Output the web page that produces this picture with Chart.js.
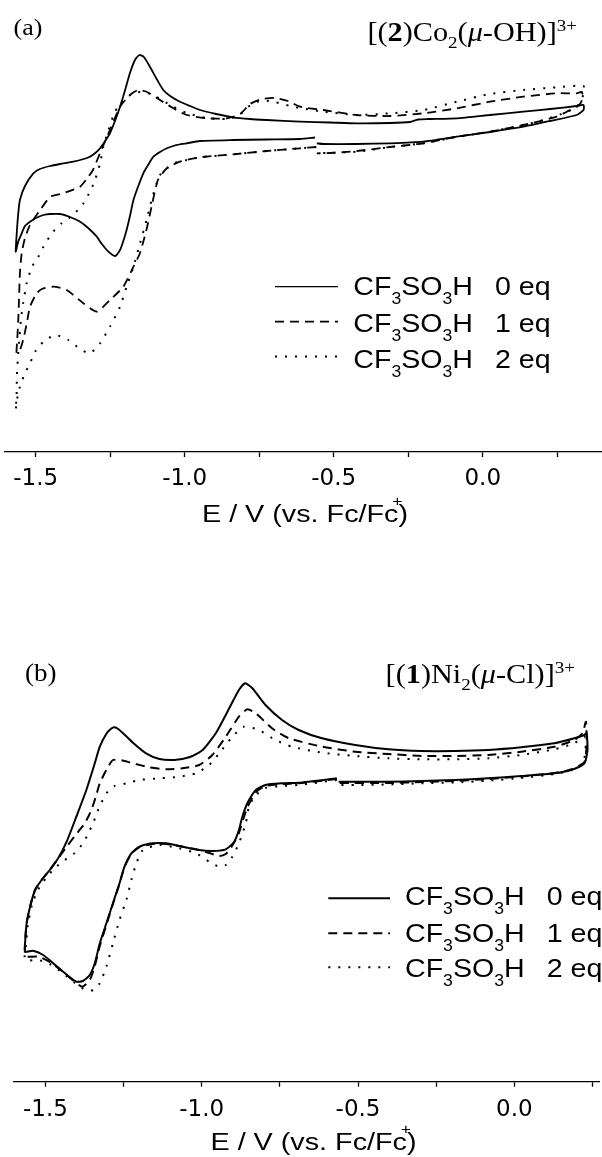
<!DOCTYPE html>
<html>
<head>
<meta charset="utf-8">
<title>CV titration with CF3SO3H</title>
<script src="https://cdn.jsdelivr.net/npm/chart.js@4.4.1/dist/chart.umd.min.js"></script>
<style>
	html, body { margin: 0; padding: 0; background: #fff; }
	body { width: 602px; height: 1157px; position: relative; overflow: hidden; }
	canvas { position: absolute; left: 0; }
	#cvCo { top: 0; }
	#cvNi { top: 555px; }
</style>
</head>
<body>
<canvas id="cvCo" width="602" height="545"></canvas>
<canvas id="cvNi" width="602" height="602"></canvas>
<script>
var SERIF = '"Liberation Serif", "Times New Roman", serif';
var SANS = '"Liberation Sans", Arial, sans-serif';
var TICK_FAMILY = '"DejaVu Sans", sans-serif';

// [E / V vs Fc/Fc+, current (arb. units)] in sweep order
var coEq0 = [[-0.563,31.45],[-0.613,31.3],[-0.725,31.25],[-0.838,31.2],[-0.949,31.1],[-0.993,30.87],[-1.033,30.65],[-1.060,30.37],[-1.083,30.0],[-1.105,29.53],[-1.123,28.7],[-1.139,27.87],[-1.157,26.5],[-1.172,25.2],[-1.183,23.7],[-1.195,22.2],[-1.207,21.0],[-1.217,20.2],[-1.234,19.6],[-1.256,20.03],[-1.278,20.8],[-1.295,21.53],[-1.324,22.4],[-1.351,23.03],[-1.385,23.5],[-1.418,23.8],[-1.452,23.8],[-1.474,23.7],[-1.499,23.4],[-1.519,23.03],[-1.536,22.6],[-1.547,21.87],[-1.559,21.0],[-1.567,20.03],
	[-1.564,21.7],[-1.559,23.7],[-1.553,25.2],[-1.536,26.6],[-1.508,27.87],[-1.486,28.3],[-1.452,28.6],[-1.418,28.8],[-1.374,29.03],[-1.345,29.25],[-1.318,29.53],[-1.298,29.95],[-1.284,30.37],[-1.268,31.05],[-1.251,31.87],[-1.234,33.1],[-1.217,34.53],[-1.200,36.2],[-1.184,37.87],[-1.167,39.2],[-1.152,39.7],[-1.137,39.5],[-1.117,38.53],[-1.096,37.4],[-1.072,36.2],[-1.049,35.6],[-1.016,35.03],[-0.982,34.6],[-0.949,34.2],[-0.895,33.8],[-0.838,33.47],[-0.781,33.3],[-0.725,33.2],[-0.613,33.03],[-0.512,32.95],[-0.423,32.87],[-0.311,32.9],[-0.244,33.0],[-0.217,33.25],[-0.184,33.3],[-0.087,33.37],[0.024,33.7],[0.136,34.03],[0.226,34.3],[0.315,34.6],[0.338,34.7],
	[0.338,34.2],[0.315,33.7],[0.226,33.1],[0.136,32.53],[0.024,32.0],[-0.087,31.53],[-0.199,31.03],[-0.311,30.87],[-0.423,30.8],[-0.535,30.8],[-0.557,30.87]];
var coEq1 = [[-0.559,30.5],[-0.613,30.37],[-0.725,30.1],[-0.837,29.77],[-0.949,29.47],[-1.016,29.03],[-1.060,28.37],[-1.090,27.2],[-1.110,24.7],[-1.127,22.4],[-1.150,19.9],[-1.172,18.53],[-1.206,16.53],[-1.251,15.2],[-1.295,14.03],[-1.340,14.87],[-1.396,16.2],[-1.441,16.53],[-1.479,16.3],[-1.497,15.87],[-1.519,14.53],[-1.530,12.87],[-1.542,11.2],[-1.553,10.2],[-1.564,9.9],
	[-1.562,11.2],[-1.558,13.53],[-1.556,15.2],[-1.553,17.87],[-1.547,19.87],[-1.536,21.4],[-1.519,22.7],[-1.485,24.2],[-1.451,25.53],[-1.418,25.8],[-1.392,26.03],[-1.351,26.53],[-1.324,27.5],[-1.308,28.2],[-1.284,29.9],[-1.251,32.2],[-1.217,34.53],[-1.184,35.7],[-1.156,36.2],[-1.128,36.03],[-1.083,35.2],[-1.038,34.37],[-0.993,33.7],[-0.926,33.37],[-0.859,33.37],[-0.814,33.8],[-0.781,34.8],[-0.741,35.3],[-0.697,35.4],[-0.653,35.1],[-0.613,34.53],[-0.535,34.2],[-0.423,33.7],[-0.311,33.6],[-0.199,33.87],[-0.087,34.37],[0.024,35.03],[0.136,35.53],[0.248,35.87],[0.315,35.87],[0.333,36.0],
	[0.333,35.2],[0.320,34.6],[0.282,34.03],[0.248,33.53],[0.136,32.7],[0.024,32.03],[-0.087,31.53],[-0.199,30.87],[-0.311,30.5],[-0.423,30.1],[-0.512,29.9],[-0.557,29.87]];
var coEq2 = [[-0.559,30.5],[-0.613,30.37],[-0.725,30.1],[-0.837,29.77],[-0.949,29.47],[-0.993,29.2],[-1.033,28.9],[-1.060,28.37],[-1.083,27.7],[-1.094,26.87],[-1.111,25.2],[-1.128,23.2],[-1.150,20.87],[-1.172,18.53],[-1.195,16.53],[-1.217,14.53],[-1.251,12.53],[-1.284,10.87],[-1.318,9.87],[-1.351,10.3],[-1.391,11.2],[-1.435,11.7],[-1.474,11.03],[-1.502,10.03],[-1.519,8.87],[-1.536,7.87],[-1.553,6.53],[-1.563,5.2],[-1.567,4.2],
	[-1.564,5.7],[-1.563,7.7],[-1.559,9.7],[-1.554,11.7],[-1.549,13.4],[-1.542,14.9],[-1.530,16.9],[-1.513,18.5],[-1.491,19.53],[-1.474,20.53],[-1.446,21.87],[-1.413,22.87],[-1.374,23.7],[-1.340,24.87],[-1.318,26.03],[-1.301,27.2],[-1.284,28.87],[-1.273,30.53],[-1.256,32.2],[-1.234,34.03],[-1.206,35.2],[-1.172,35.87],[-1.139,36.03],[-1.100,35.6],[-1.049,34.7],[-0.993,33.9],[-0.926,33.4],[-0.859,33.3],[-0.821,33.6],[-0.788,34.5],[-0.761,35.0],[-0.731,35.15],[-0.697,35.0],[-0.647,34.6],[-0.613,34.4],[-0.535,34.03],[-0.423,33.7],[-0.311,33.87],[-0.199,34.2],[-0.087,35.03],[0.024,35.8],[0.136,36.2],[0.248,36.47],[0.338,36.6],
	[0.337,35.7],[0.320,34.7],[0.282,34.0],[0.192,33.1],[0.136,32.7],[0.024,32.03],[-0.087,31.5],[-0.199,30.87],[-0.311,30.5],[-0.423,30.03],[-0.557,29.87]];

var niEq0 = [[-0.568,30.34],[-0.690,29.9],[-0.743,29.84],[-0.796,29.67],[-0.827,29.17],[-0.854,27.84],[-0.870,26.5],[-0.881,25.17],[-0.896,24.0],[-0.923,23.24],[-0.966,23.07],[-1.008,23.17],[-1.061,23.5],[-1.114,23.84],[-1.157,23.84],[-1.199,23.5],[-1.225,22.84],[-1.247,21.5],[-1.263,19.84],[-1.284,17.84],[-1.305,15.84],[-1.326,13.84],[-1.342,11.84],[-1.358,10.67],[-1.380,10.07],[-1.401,10.0],[-1.417,10.34],[-1.443,11.0],[-1.475,11.84],[-1.507,12.67],[-1.539,13.1],[-1.565,13.0],
	[-1.565,13.84],[-1.560,15.84],[-1.549,17.5],[-1.533,19.17],[-1.512,20.17],[-1.486,21.17],[-1.459,22.34],[-1.432,24.0],[-1.401,26.5],[-1.369,29.17],[-1.342,31.84],[-1.326,33.5],[-1.305,34.8],[-1.290,35.3],[-1.279,35.45],[-1.266,35.25],[-1.250,34.8],[-1.220,33.9],[-1.178,32.84],[-1.135,32.27],[-1.088,32.17],[-1.040,32.44],[-0.997,33.17],[-0.955,34.84],[-0.912,37.34],[-0.881,39.17],[-0.861,39.84],[-0.838,39.34],[-0.796,37.67],[-0.743,36.17],[-0.690,35.17],[-0.615,34.34],[-0.509,33.67],[-0.403,33.24],[-0.297,33.07],[-0.190,33.07],[-0.084,33.17],[0.022,33.44],[0.128,33.84],[0.192,34.34],[0.224,34.67],[0.231,34.87],
	[0.234,33.17],[0.224,31.84],[0.181,31.17],[0.128,30.84],[0.022,30.57],[-0.084,30.34],[-0.190,30.17],[-0.297,30.07],[-0.403,30.0],[-0.562,30.0]];
var niEq1 = [[-0.568,30.27],[-0.690,29.84],[-0.743,29.77],[-0.796,29.57],[-0.826,28.97],[-0.852,27.57],[-0.868,26.17],[-0.881,24.87],[-0.903,23.57],[-0.923,22.77],[-0.944,22.57],[-0.976,22.87],[-1.008,23.17],[-1.061,23.5],[-1.114,23.77],[-1.157,23.77],[-1.199,23.47],[-1.225,22.77],[-1.247,21.47],[-1.263,19.77],[-1.284,17.77],[-1.305,15.67],[-1.326,13.57],[-1.342,11.57],[-1.358,10.17],[-1.382,9.5],[-1.413,10.17],[-1.446,11.07],[-1.486,11.97],[-1.522,12.5],[-1.559,12.5],[-1.565,12.67],
	[-1.565,13.87],[-1.560,15.84],[-1.549,17.5],[-1.533,19.17],[-1.512,20.17],[-1.486,21.17],[-1.459,22.34],[-1.435,23.37],[-1.406,24.57],[-1.374,25.84],[-1.353,27.17],[-1.339,28.47],[-1.326,29.84],[-1.305,31.17],[-1.284,32.17],[-1.253,32.12],[-1.220,31.84],[-1.167,31.44],[-1.114,31.24],[-1.061,31.34],[-1.008,31.67],[-0.966,32.67],[-0.923,34.5],[-0.881,36.5],[-0.854,37.24],[-0.827,36.84],[-0.775,35.34],[-0.721,34.34],[-0.615,33.5],[-0.509,33.0],[-0.403,32.77],[-0.297,32.57],[-0.190,32.57],[-0.084,32.67],[0.022,33.0],[0.128,33.5],[0.192,34.17],[0.218,34.87],[0.229,36.0],
	[0.231,33.67],[0.224,31.97],[0.181,31.22],[0.128,30.87],[0.022,30.52],[-0.084,30.27],[-0.190,30.07],[-0.297,29.97],[-0.403,29.87],[-0.562,29.87]];
var niEq2 = [[-0.568,30.17],[-0.690,29.67],[-0.743,29.57],[-0.796,29.37],[-0.830,28.57],[-0.849,27.5],[-0.859,25.84],[-0.881,23.84],[-0.902,22.5],[-0.923,21.67],[-0.944,21.5],[-0.976,22.0],[-1.018,22.84],[-1.072,23.34],[-1.135,23.67],[-1.188,23.17],[-1.209,21.84],[-1.225,20.17],[-1.241,18.17],[-1.263,16.17],[-1.284,13.84],[-1.305,11.5],[-1.326,9.84],[-1.345,9.17],[-1.371,9.17],[-1.406,9.87],[-1.444,10.87],[-1.486,11.77],[-1.522,12.17],[-1.565,12.17],
	[-1.562,13.67],[-1.556,15.67],[-1.543,17.67],[-1.524,19.17],[-1.498,20.37],[-1.470,21.37],[-1.438,22.17],[-1.406,22.87],[-1.384,23.67],[-1.365,24.67],[-1.346,25.97],[-1.326,27.57],[-1.304,28.87],[-1.279,29.57],[-1.241,29.84],[-1.199,30.17],[-1.135,30.34],[-1.072,30.5],[-1.018,30.84],[-0.976,31.67],[-0.944,32.84],[-0.902,34.5],[-0.865,35.5],[-0.817,35.17],[-0.764,34.17],[-0.711,33.5],[-0.615,32.9],[-0.509,32.57],[-0.403,32.34],[-0.297,32.24],[-0.190,32.24],[-0.084,32.34],[0.022,32.67],[0.128,33.24],[0.192,33.84],[0.224,34.5],
	[0.228,33.17],[0.218,31.77],[0.181,31.12],[0.128,30.77],[0.022,30.37],[-0.084,30.1],[-0.190,29.92],[-0.297,29.84],[-0.403,29.72],[-0.509,29.67],[-0.562,29.67]];

var X_TICKS = [-1.5, -1.25, -1.0, -0.75, -0.5, -0.25, 0, 0.25];
var EQ_LABELS = ['0 eq', '1 eq', '2 eq'];
var DASHES = [[], [9, 6], [2, 8]];

var AXIS_TITLE = [{ t: 'E / V (vs. Fc/Fc' }, { t: '+', size: 14, dx: -5, dy: -16, noAdv: true }, { t: ')' }];
var CO_TITLE = [{ t: '[(' }, { t: '2', s: 'b' }, { t: ')Co' }, { t: '2', s: 'sub' }, { t: '(' }, { t: '\u03bc', s: 'i' }, { t: '-OH)]' }, { t: '3+', s: 'sup' }];
var NI_TITLE = [{ t: '[(' }, { t: '1', s: 'b' }, { t: ')Ni' }, { t: '2', s: 'sub' }, { t: '(' }, { t: '\u03bc', s: 'i' }, { t: '-Cl)]' }, { t: '3+', s: 'sup' }];

function legendPieces(i) {
	return [{ t: 'CF' }, { t: '3', s: 'sub' }, { t: 'SO' }, { t: '3', s: 'sub' }, { t: 'H' }, { t: EQ_LABELS[i], dx: 20 }];
}

function pieceFont(p, o) {
	var s = p.size || ((p.s === 'sub' || p.s === 'sup') ? Math.round(o.size * 0.62) : o.size);
	return (p.s === 'i' ? 'italic ' : '') + (p.s === 'b' ? 'bold ' : '') + s + 'px ' + o.family;
}

function drawRich(ctx, pieces, x, y, o) {
	var total = 0;
	ctx.save();
	pieces.forEach(function(p) {
		ctx.font = pieceFont(p, o);
		if (!p.noAdv) total += ctx.measureText(p.t).width + (p.dx || 0);
	});
	var sx = o.sx || 1;
	var left = x;
	if (o.align === 'right') left = x - total * sx;
	if (o.align === 'center') left = x - total * sx / 2;
	ctx.translate(left, y);
	ctx.scale(sx, 1);
	ctx.fillStyle = '#000';
	ctx.textAlign = 'left';
	ctx.textBaseline = 'alphabetic';
	var cx = 0;
	pieces.forEach(function(p) {
		ctx.font = pieceFont(p, o);
		var dy = p.dy;
		if (dy === undefined) dy = p.s === 'sub' ? o.size * o.sub : (p.s === 'sup' ? -o.size * o.sup : 0);
		var w = ctx.measureText(p.t).width;
		ctx.fillText(p.t, cx + (p.dx || 0), dy);
		if (!p.noAdv) cx += w + (p.dx || 0);
	});
	ctx.restore();
}

function textPlugin(spec) {
	return {
		id: 'panelText',
		afterDraw: function(chart) {
			var ctx = chart.ctx;
			drawRich(ctx, [{ t: spec.tag }], spec.tagX, spec.tagY, { family: SERIF, size: spec.tagSize, sx: 1.08 });
			drawRich(ctx, spec.title, spec.titleX, spec.titleY, { family: SERIF, size: 27, sx: 1.12, sub: 0.27, sup: 0.37, align: 'right' });
			drawRich(ctx, AXIS_TITLE, spec.axisX, spec.axisY, { family: SANS, size: 23, sx: 1.25, align: 'center' });

			chart.data.datasets.forEach(function(ds, i) {
				ctx.save();
				ctx.strokeStyle = '#000';
				ctx.lineWidth = spec.legendWidth[i];
				ctx.setLineDash(ds.borderDash);
				ctx.beginPath();
				ctx.moveTo(spec.legendX[0], spec.sampleY[i]);
				ctx.lineTo(spec.legendX[1], spec.sampleY[i]);
				ctx.stroke();
				ctx.restore();
				drawRich(ctx, legendPieces(i), spec.legendX[2], spec.legendY[i], { family: SANS, size: 26, sx: 1.1, sub: 0.35, sup: 0.38 });
			});
		}
	};
}

function makeDatasets(series, widths) {
	return series.map(function(list, i) {
		return {
			label: 'CF3SO3H ' + EQ_LABELS[i],
			data: list.map(function(p) { return { x: p[0], y: p[1] }; }),
			showLine: true,
			borderColor: '#000',
			borderWidth: widths[i],
			borderDash: DASHES[i],
			pointRadius: 0,
			tension: 0.2,
			fill: false,
			clip: false
		};
	});
}

function makeConfig(datasets, xMin, xMax, pad, axisH, tickPad, spec) {
	return {
		type: 'scatter',
		data: { datasets: datasets },
		options: {
			responsive: false,
			animation: false,
			devicePixelRatio: 1,
			layout: { padding: pad },
			plugins: {
				legend: { display: false },
				tooltip: { enabled: false }
			},
			scales: {
				x: {
					type: 'linear',
					min: xMin,
					max: xMax,
					afterBuildTicks: function(axis) {
						axis.ticks = X_TICKS.map(function(v) { return { value: v }; });
					},
					afterFit: function(axis) {
						axis.height = axisH;
					},
					border: { display: true, color: '#000', width: 1.3 },
					grid: { display: true, drawOnChartArea: false, drawTicks: true, tickLength: 5, tickWidth: 1.3, tickColor: '#000' },
					ticks: {
						color: '#000',
						padding: tickPad,
						maxRotation: 0,
						autoSkip: false,
						font: { family: TICK_FAMILY, size: 23 },
						callback: function(v) {
							return Math.abs(v * 2 - Math.round(v * 2)) < 1e-6 ? v.toFixed(1) : '';
						}
					}
				},
				y: { display: false, min: 0, max: 40 }
			}
		},
		plugins: [textPlugin(spec)]
	};
}

var coChart = new Chart(document.getElementById('cvCo'), makeConfig(
	makeDatasets([coEq0, coEq1, coEq2], [1.8, 1.8, 2]),
	-1.603, 0.400,
	{ top: 52, left: 5, right: 0, bottom: 0 }, 93, 8.5,
	{
		tag: '(a)', tagX: 13.5, tagY: 35, tagSize: 24,
		title: CO_TITLE, titleX: 577, titleY: 41,
		axisX: 305, axisY: 522,
		legendX: [275, 338, 353.3], sampleY: [286.7, 321.7, 356.5], legendY: [295, 331.7, 367.7],
		legendWidth: [1.3, 1.8, 2]
	}
));

var niChart = new Chart(document.getElementById('cvNi'), makeConfig(
	makeDatasets([niEq0, niEq1, niEq2], [2, 2, 2]),
	-1.602, 0.2723,
	{ top: 126.7, left: 13.5, right: 0, bottom: 0 }, 75.3, 9.5,
	{
		tag: '(b)', tagX: 25, tagY: 125.5, tagSize: 25,
		title: NI_TITLE, titleX: 575, titleY: 127.7,
		axisX: 313.5, axisY: 595,
		legendX: [328.3, 390, 405], sampleY: [343.3, 378.3, 412.3], legendY: [350, 386.5, 421.7],
		legendWidth: [2, 2, 2]
	}
));
</script>
</body>
</html>
